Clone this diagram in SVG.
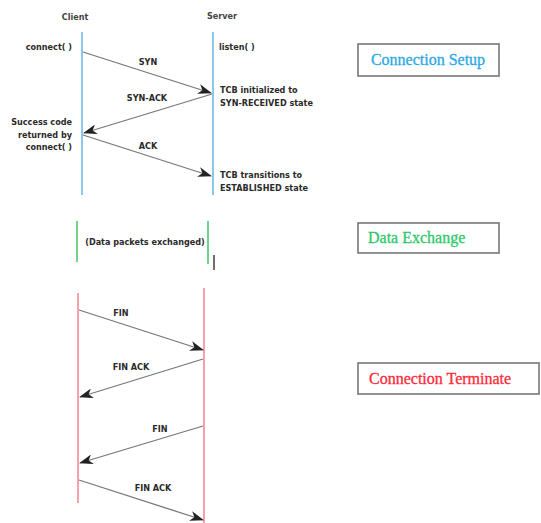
<svg xmlns="http://www.w3.org/2000/svg" width="541" height="523" viewBox="0 0 541 523">
<defs>
<marker id="ah" viewBox="0 0 14 10" refX="13" refY="5" markerWidth="14" markerHeight="10" markerUnits="userSpaceOnUse" orient="auto">
<path d="M0,0 L14,5 L0,10 L4,5 Z" fill="#222"/>
</marker>
</defs>
<style>
.lbl{font-family:"DejaVu Sans Condensed","Liberation Sans Narrow","Liberation Sans",sans-serif;font-weight:bold;font-size:9px;fill:#2a2a2a}
.hdr{font-family:"DejaVu Sans Condensed","Liberation Sans",sans-serif;font-weight:bold;font-size:9px;fill:#444}
.msg{stroke:#777;stroke-width:1.3;fill:none;marker-end:url(#ah)}
.blue{stroke:#8cc8ea;stroke-width:2}
.green{stroke:#6fd48f;stroke-width:2}
.red{stroke:#f28a9a;stroke-width:1.6}
.box{fill:#fff;stroke:#777;stroke-width:1.6}
.btxt{font-family:"Liberation Serif","DejaVu Serif",serif;font-size:16px;stroke-width:0.3}
</style>
<rect width="541" height="523" fill="#fff"/>

<g id="lifelines">
<line class="blue" x1="82" y1="32" x2="82" y2="195"/>
<line class="blue" x1="213" y1="32" x2="213" y2="195"/>
<line class="green" x1="77" y1="221" x2="77" y2="262"/>
<line class="green" x1="208" y1="221" x2="208" y2="264"/>
<line stroke="#222" stroke-width="1.3" x1="214" y1="255" x2="214" y2="270"/>
<line class="red" x1="78" y1="293" x2="78" y2="503"/>
<line class="red" x1="204" y1="288" x2="204" y2="523"/>
</g>

<g id="connectors">
<path class="msg" d="M83,52 L211,93"/>
<path class="msg" d="M212,94 L84,133"/>
<path class="msg" d="M83,135 L211,176"/>
<path class="msg" d="M79,310 L203,350"/>
<path class="msg" d="M203,359 L80,397"/>
<path class="msg" d="M203,426 L80,463"/>
<path class="msg" d="M79,480 L203,520"/>
</g>

<g id="labels">
<text class="hdr" x="75" y="20" text-anchor="middle">Client</text>
<text class="hdr" x="222" y="19" text-anchor="middle">Server</text>
<text class="lbl" x="72" y="50" text-anchor="end">connect( )</text>
<text class="lbl" x="219" y="50">listen( )</text>
<text class="lbl" x="148" y="65" text-anchor="middle">SYN</text>
<text class="lbl" x="147" y="101" text-anchor="middle">SYN-ACK</text>
<text class="lbl" x="220" y="93">TCB initialized to</text>
<text class="lbl" x="220" y="106">SYN-RECEIVED state</text>
<text class="lbl" x="72" y="125" text-anchor="end">Success code</text>
<text class="lbl" x="72" y="138" text-anchor="end">returned by</text>
<text class="lbl" x="72" y="150" text-anchor="end">connect( )</text>
<text class="lbl" x="148" y="149" text-anchor="middle">ACK</text>
<text class="lbl" x="220" y="178">TCB transitions to</text>
<text class="lbl" x="220" y="191">ESTABLISHED state</text>
<text class="lbl" x="145" y="245" text-anchor="middle" font-size="8.5">(Data packets exchanged)</text>
<text class="lbl" x="121" y="316" text-anchor="middle">FIN</text>
<text class="lbl" x="131" y="370" text-anchor="middle">FIN ACK</text>
<text class="lbl" x="160" y="432" text-anchor="middle">FIN</text>
<text class="lbl" x="153" y="491" text-anchor="middle">FIN ACK</text>
</g>

<g id="box-setup">
<rect class="box" x="358" y="44" width="141" height="32"/>
<text class="btxt" x="428" y="65" text-anchor="middle" fill="#2aa8e6" stroke="#2aa8e6">Connection Setup</text>
</g>
<g id="box-data">
<rect class="box" x="358" y="223" width="141" height="30"/>
<text class="btxt" x="368" y="243" fill="#2ec86c" stroke="#2ec86c">Data Exchange</text>
</g>
<g id="box-term">
<rect class="box" x="358" y="363" width="181" height="31"/>
<text class="btxt" x="369" y="384" fill="#ff2a3a" stroke="#ff2a3a">Connection Terminate</text>
</g>
</svg>
